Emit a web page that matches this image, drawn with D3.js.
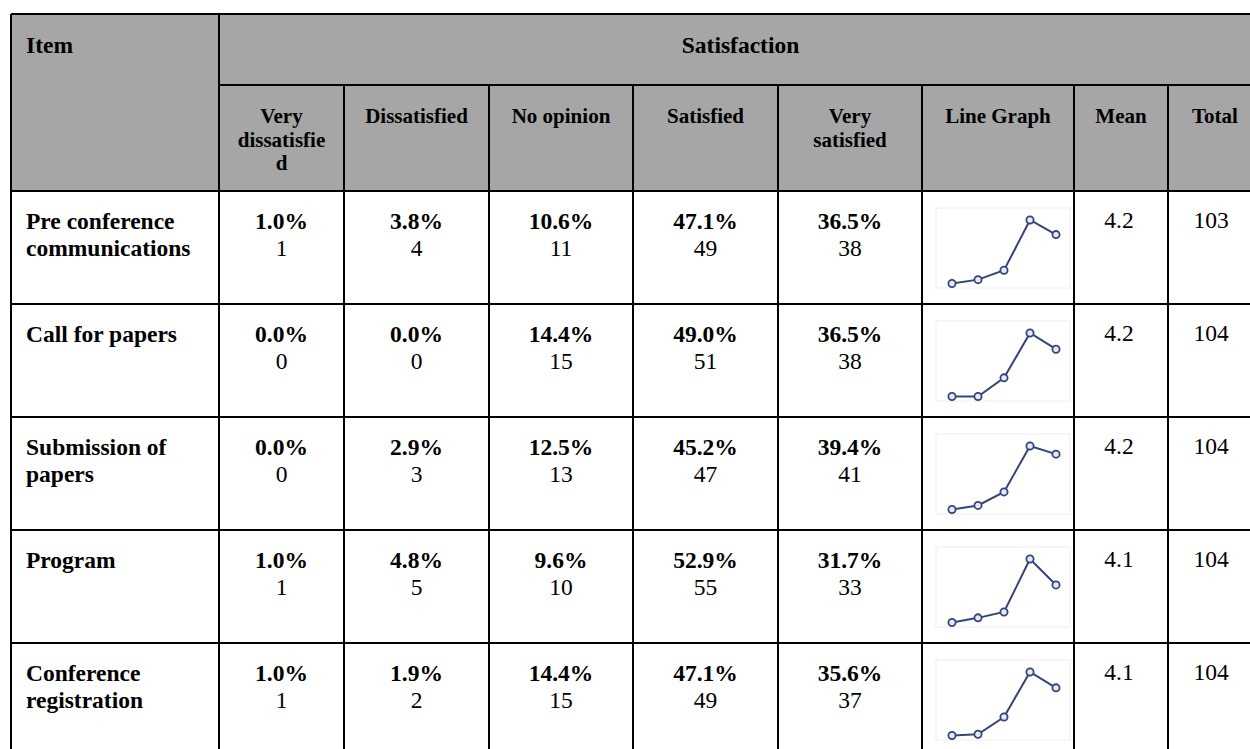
<!DOCTYPE html>
<html>
<head>
<meta charset="utf-8">
<script src="https://cdn.jsdelivr.net/npm/d3@7"></script>
<style>
  html, body { margin: 0; padding: 0; background: #fff; }
  svg { display: block; }
  text { font-family: "Liberation Serif", "Times New Roman", serif; fill: #000; }
</style>
</head>
<body>
<svg id="chart" width="1250" height="749"></svg>
<script>
// ---------------- DATA ----------------
const items = [
  "Pre conference communications",
  "Call for papers",
  "Submission of papers",
  "Program",
  "Conference registration"
];
const categories = ["Very dissatisfied", "Dissatisfied", "No opinion", "Satisfied", "Very satisfied"];
const extraHeaders = ["Line Graph", "Mean", "Total"];
const groupHeader = "Satisfaction";
const itemHeader = "Item";

const veryDissatisfiedPct = [1.0, 0.0, 0.0, 1.0, 1.0];
const dissatisfiedPct     = [3.8, 0.0, 2.9, 4.8, 1.9];
const noOpinionPct        = [10.6, 14.4, 12.5, 9.6, 14.4];
const satisfiedPct        = [47.1, 49.0, 45.2, 52.9, 47.1];
const verySatisfiedPct    = [36.5, 36.5, 39.4, 31.7, 35.6];

const veryDissatisfiedN = [1, 0, 0, 1, 1];
const dissatisfiedN     = [4, 0, 3, 5, 2];
const noOpinionN        = [11, 15, 13, 10, 15];
const satisfiedN        = [49, 51, 47, 55, 49];
const verySatisfiedN    = [38, 38, 41, 33, 37];

const means  = ["4.2", "4.2", "4.2", "4.1", "4.1"];
const totals = [103, 104, 104, 104, 104];

// ---------------- LAYOUT ----------------
const pctSeries = [veryDissatisfiedPct, dissatisfiedPct, noOpinionPct, satisfiedPct, verySatisfiedPct];
const nSeries = [veryDissatisfiedN, dissatisfiedN, noOpinionN, satisfiedN, verySatisfiedN];

const svg = d3.select("#chart");
const colEdges = [11, 219, 344, 489, 633, 778, 922, 1074, 1168, 1262];
const tableTop = 14, headMid = 85, headBottom = 191, rowH = 113;
const tableRight = colEdges[colEdges.length - 1];

const yRow = d3.scaleBand().domain(items).range([headBottom, headBottom + rowH * items.length]).paddingInner(0).paddingOuter(0);
const tableBottom = headBottom + rowH * items.length;

const gray = "#a6a6a6";
const bigFont = 23.5, subFont = 21;

// header background
svg.append("rect").attr("x", colEdges[0]).attr("y", tableTop)
  .attr("width", tableRight - colEdges[0]).attr("height", headBottom - tableTop)
  .attr("fill", gray);

// measuring helper
const measurer = svg.append("text").attr("visibility", "hidden");
function textWidth(str, size, weight) {
  measurer.attr("font-size", size).attr("font-weight", weight).text(str);
  return measurer.node().getComputedTextLength();
}
function wrapLines(str, maxW, size, weight) {
  const words = str.split(" ");
  const lines = [];
  let cur = "";
  words.forEach(w => {
    const cand = cur ? cur + " " + w : w;
    if (textWidth(cand, size, weight) <= maxW) { cur = cand; return; }
    if (cur) { lines.push(cur); cur = ""; }
    if (textWidth(w, size, weight) <= maxW) { cur = w; return; }
    let piece = "";
    for (const ch of w) {
      if (textWidth(piece + ch, size, weight) <= maxW) piece += ch;
      else { lines.push(piece); piece = ch; }
    }
    cur = piece;
  });
  if (cur) lines.push(cur);
  return lines;
}

// header texts
svg.append("text").attr("x", 26).attr("y", 53)
  .attr("font-size", bigFont).attr("font-weight", "bold").text(itemHeader);
svg.append("text").attr("x", (colEdges[1] + tableRight) / 2).attr("y", 53)
  .attr("text-anchor", "middle").attr("font-size", bigFont).attr("font-weight", "bold").text(groupHeader);

const subHeaders = categories.concat(extraHeaders);
subHeaders.forEach((h, i) => {
  const x0 = colEdges[i + 1], x1 = colEdges[i + 2];
  const lines = wrapLines(h, (x1 - x0) - 32, subFont, "bold");
  const t = svg.append("text").attr("text-anchor", "middle")
    .attr("font-size", subFont).attr("font-weight", "bold");
  lines.forEach((ln, k) => {
    t.append("tspan").attr("x", (x0 + x1) / 2).attr("y", 123 + k * 23.7).text(ln);
  });
});

// body rows
const rows = svg.append("g");
items.forEach((item, r) => {
  const top = yRow(item);
  const lines = wrapLines(item, 185, bigFont, "bold");
  const t = rows.append("text").attr("font-size", bigFont).attr("font-weight", "bold");
  lines.forEach((ln, k) => t.append("tspan").attr("x", 26).attr("y", top + 38 + k * 26.7).text(ln));

  pctSeries.forEach((series, c) => {
    const cx = (colEdges[c + 1] + colEdges[c + 2]) / 2;
    rows.append("text").attr("x", cx).attr("y", top + 38).attr("text-anchor", "middle")
      .attr("font-size", bigFont).attr("font-weight", "bold").text(series[r].toFixed(1) + "%");
    rows.append("text").attr("x", cx).attr("y", top + 65).attr("text-anchor", "middle")
      .attr("font-size", bigFont).text(nSeries[c][r]);
  });

  rows.append("text").attr("x", (colEdges[7] + colEdges[8]) / 2 - 2).attr("y", top + 37)
    .attr("text-anchor", "middle").attr("font-size", bigFont).text(means[r]);
  rows.append("text").attr("x", (colEdges[8] + colEdges[9]) / 2 - 4).attr("y", top + 37)
    .attr("text-anchor", "middle").attr("font-size", bigFont).text(totals[r]);

  // sparkline
  const gx = colEdges[6];
  const vals = pctSeries.map(s => s[r]);
  const xs = d3.scalePoint().domain(categories).range([gx + 30, gx + 134]);
  const ys = d3.scaleLinear().domain(d3.extent(vals)).range([top + 92.5, top + 29]);
  const g = rows.append("g");
  g.append("rect").attr("x", gx + 14).attr("y", top + 17).attr("width", 134).attr("height", 80)
    .attr("fill", "#fff").attr("stroke", "#eeeeee").attr("stroke-width", 1);
  const line = d3.line().x((d, i) => xs(categories[i])).y(d => ys(d));
  g.append("path").attr("d", line(vals)).attr("fill", "none")
    .attr("stroke", "#34457a").attr("stroke-width", 2);
  g.selectAll("circle").data(vals).join("circle")
    .attr("cx", (d, i) => xs(categories[i])).attr("cy", d => ys(d)).attr("r", 3.6)
    .attr("fill", "#e4eaf6").attr("stroke", "#34457a").attr("stroke-width", 1.8);
});

// grid lines
const grid = svg.append("g").attr("stroke", "#000").attr("stroke-width", 2);
grid.append("line").attr("x1", colEdges[0]).attr("x2", tableRight).attr("y1", tableTop).attr("y2", tableTop);
grid.append("line").attr("x1", colEdges[1]).attr("x2", tableRight).attr("y1", headMid).attr("y2", headMid);
[headBottom].concat(items.map(d => yRow(d) + rowH)).forEach(y => {
  grid.append("line").attr("x1", colEdges[0]).attr("x2", tableRight).attr("y1", y).attr("y2", y);
});
grid.append("line").attr("x1", colEdges[0]).attr("x2", colEdges[0]).attr("y1", tableTop).attr("y2", tableBottom);
grid.append("line").attr("x1", colEdges[1]).attr("x2", colEdges[1]).attr("y1", tableTop).attr("y2", tableBottom);
colEdges.slice(2).forEach(x => {
  grid.append("line").attr("x1", x).attr("x2", x).attr("y1", headMid).attr("y2", tableBottom);
});
grid.append("line").attr("x1", tableRight).attr("x2", tableRight).attr("y1", tableTop).attr("y2", tableBottom);
</script>
</body>
</html>
